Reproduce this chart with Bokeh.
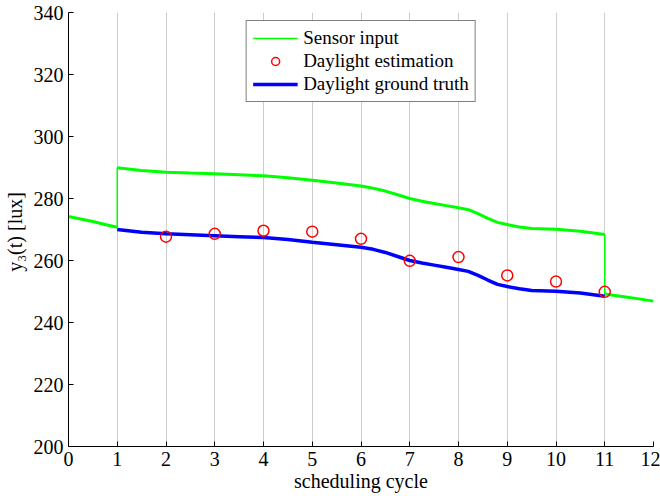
from bokeh.plotting import figure
from bokeh.models import Range1d, FixedTicker, Legend, LegendItem
from bokeh.embed import file_html
from bokeh.resources import INLINE

# ---- data ----
x_ticks = list(range(0, 13))
y_ticks = list(range(200, 341, 20))

sensor_pre_x = [0, 0.25, 0.5, 0.75, 1]
sensor_pre_y = [274.2, 273.4, 272.6, 271.6, 270.7]

sensor_mid_x = [1, 1.5, 2, 2.5, 3, 3.5, 4, 4.5, 5, 5.5, 6, 6.25, 6.5, 6.75, 7, 7.25, 7.5, 7.75, 8, 8.2, 8.4,
                8.6, 8.8, 9, 9.25, 9.5, 10, 10.5, 11]
sensor_mid_y = [289.9, 289.0, 288.5, 288.2, 288.0, 287.7, 287.3, 286.7, 285.9, 285.0, 284.0, 283.3, 282.4, 281.2,
                280.0, 279.1, 278.4, 277.7, 277.0, 276.4, 275.1, 273.6, 272.3, 271.6, 270.8, 270.3, 270.1,
                269.4, 268.4]

sensor_post_x = [11, 11.5, 12]
sensor_post_y = [249.2, 248.1, 246.9]

truth_x = [1, 1.5, 2, 2.5, 3, 3.5, 4, 4.5, 5, 5.5, 6, 6.25, 6.5, 6.75, 7, 7.25, 7.5, 7.75, 8, 8.2, 8.4,
           8.6, 8.8, 9, 9.25, 9.5, 10, 10.5, 11]
truth_y = [270.0, 269.1, 268.6, 268.3, 268.0, 267.7, 267.4, 266.8, 265.9, 265.1, 264.3, 263.6, 262.6, 261.3,
           260.0, 259.2, 258.5, 257.8, 257.1, 256.5, 255.2, 253.7, 252.3, 251.6, 250.9, 250.3, 250.1,
           249.5, 248.5]

est_x = [2, 3, 4, 5, 6, 7, 8, 9, 10, 11]
est_y = [267.7, 268.6, 269.6, 269.3, 267.0, 259.9, 261.1, 255.2, 253.2, 249.9]

FONT = "Liberation Serif"

p = figure(width=660, height=496, output_backend="svg", toolbar_location=None,
           x_range=Range1d(0, 12), y_range=Range1d(200, 340),
           min_border_left=68, min_border_right=7, min_border_top=12, min_border_bottom=50)
p.outline_line_color = None
p.background_fill_color = "white"
p.border_fill_color = "white"

p.xaxis.ticker = FixedTicker(ticks=x_ticks)
p.yaxis.ticker = FixedTicker(ticks=y_ticks)
for ax in (p.xaxis, p.yaxis):
    ax.major_tick_in = 5
    ax.major_tick_out = 0
    ax.minor_tick_line_color = None
    ax.axis_line_color = "black"
    ax.major_tick_line_color = "black"
    ax.major_label_text_font = FONT
    ax.major_label_text_font_size = "20px"
    ax.major_label_text_color = "black"
    ax.axis_label_text_font = FONT
    ax.axis_label_text_font_style = "normal"
    ax.axis_label_text_font_size = "20px"
    ax.axis_label_text_color = "black"
p.xaxis.major_label_standoff = 5
p.yaxis.major_label_standoff = 5
p.xaxis.axis_label = "scheduling cycle"
p.xaxis.axis_label_standoff = 1
p.yaxis.axis_label = "y₃(t)  [lux]"
p.yaxis.axis_label_standoff = 5

p.xgrid.grid_line_color = "#cccccc"
p.xgrid.grid_line_width = 1
p.ygrid.grid_line_color = None

green = "#00ff00"
g1 = p.line(sensor_pre_x, sensor_pre_y, line_color=green, line_width=3)
g2 = p.line(sensor_mid_x, sensor_mid_y, line_color=green, line_width=3)
g3 = p.line(sensor_post_x, sensor_post_y, line_color=green, line_width=3)
gj = p.segment(x0=[sensor_pre_x[-1], sensor_mid_x[-1]], y0=[sensor_pre_y[-1], sensor_mid_y[-1]],
               x1=[sensor_mid_x[0], sensor_post_x[0]], y1=[sensor_mid_y[0], sensor_post_y[0]],
               line_color=green, line_width=1.5)

b = p.line(truth_x, truth_y, line_color="#0000ff", line_width=3.5)
r = p.scatter(est_x, est_y, marker="circle", size=11, line_color="#ff0000", fill_color=None, line_width=1.5)

legend = Legend(items=[
    LegendItem(label="Sensor input", renderers=[gj]),
    LegendItem(label="Daylight estimation", renderers=[r]),
    LegendItem(label="Daylight ground truth", renderers=[b]),
], location="top_center")
legend.label_text_font = FONT
legend.label_text_font_size = "19px"
legend.label_text_color = "black"
legend.label_height = 20
legend.glyph_height = 20
legend.glyph_width = 45
legend.label_standoff = 6
legend.spacing = 1
legend.padding = 6
legend.margin = 8
legend.border_line_color = "black"
legend.border_line_width = 1
legend.background_fill_color = "white"
legend.background_fill_alpha = 1.0
p.add_layout(legend, "center")

open("out.html", "w").write(file_html(p, INLINE))
